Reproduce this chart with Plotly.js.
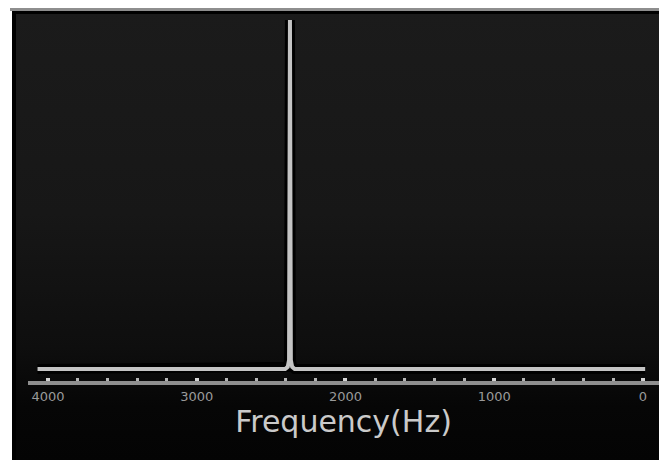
<!DOCTYPE html>
<html>
<head>
<meta charset="utf-8">
<script src="https://cdn.plot.ly/plotly-3.0.1.min.js"></script>
<style>
  html, body { margin: 0; padding: 0; background: #ffffff; width: 659px; height: 460px; overflow: hidden; }
  #topline { position: absolute; left: 10px; top: 8px; width: 649px; height: 3px; background: #8e8e8e; }
  #chart {
    position: absolute; left: 12px; top: 11px; width: 647px; height: 449px;
    background: linear-gradient(to bottom, #1b1b1b 0%, #171717 45%, #0e0e0e 75%, #060606 88%, #040404 100%);
    box-shadow: inset 4px 3px 0 #000000;
  }
</style>
</head>
<body>
<div id="topline"></div>
<div id="chart"></div>
<script>
// Spectrum: frequency (Hz) and relative amplitude
const freqHz    = [4070, 2405, 2388, 2379, 2373, 2367, 2358, 2341, -15];
const amplitude = [0,    0,    0.006, 0.025, 1,   0.025, 0.006, 0,   0];

const tickVals   = [4000, 3000, 2000, 1000, 0];
const tickLabels = ['4000', '3000', '2000', '1000', '0'];
const xTitle = 'Frequency(Hz)';

const halo = {
  x: freqHz, y: amplitude, type: 'scatter', mode: 'lines',
  line: { color: '#000000', width: 10 }, hoverinfo: 'skip', showlegend: false
};
const spectrum = {
  x: freqHz, y: amplitude, type: 'scatter', mode: 'lines',
  line: { color: '#c4c4c4', width: 4 }, showlegend: false
};

const layout = {
  width: 647, height: 449,
  margin: { l: 16, r: 0, t: 9, b: 79 },
  paper_bgcolor: 'rgba(0,0,0,0)',
  plot_bgcolor: 'rgba(0,0,0,0)',
  showlegend: false,
  xaxis: {
    range: [4134, -108],
    tickvals: tickVals, ticktext: tickLabels,
    showgrid: false, zeroline: false,
    showline: true, linecolor: '#8f8f8f', linewidth: 4,
    ticks: 'inside', ticklen: 3, tickwidth: 4, tickcolor: '#d4d4d4',
    minor: { dtick: 200, tick0: 0, ticks: 'inside', ticklen: 3, tickwidth: 3, tickcolor: '#b4b4b4', showgrid: false },
    tickfont: { family: 'DejaVu Sans', size: 13, color: '#9a9a9a' },
    title: { text: xTitle, font: { family: 'DejaVu Sans', size: 30, color: '#cacaca' }, standoff: 6 },
    fixedrange: true
  },
  yaxis: {
    range: [-0.0345, 1.0],
    visible: false, showgrid: false, zeroline: false, fixedrange: true
  }
};

Plotly.newPlot('chart', [halo, spectrum], layout, { displayModeBar: false, staticPlot: true });
</script>
</body>
</html>
